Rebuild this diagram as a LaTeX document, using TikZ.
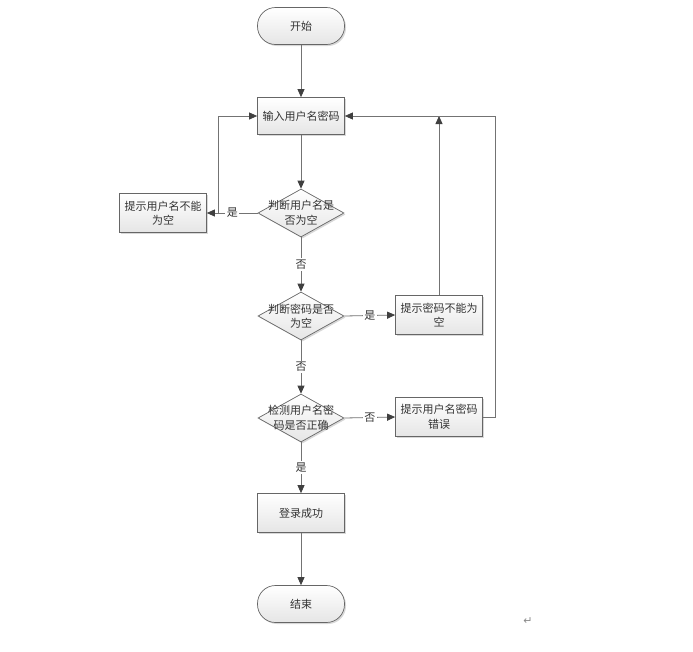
\documentclass[tikz,border=0pt]{standalone}
\usepackage{fontspec}
\setmainfont{Noto Sans CJK SC}
\newfontfamily\symfont{DejaVu Sans}
\usetikzlibrary{shapes.geometric,arrows.meta,shadows}
\begin{document}
\begin{tikzpicture}[x=1pt,y=-1pt,
  txt/.style={font=\fontsize{11}{14.5}\selectfont, text=black!80, align=center},
  shd/.style={drop shadow={shadow xshift=1.5pt,shadow yshift=-1.5pt,fill=black!25,opacity=0.6}},
  proc/.style={draw=black!60, line width=0.7pt, top color=white, bottom color=black!10, minimum width=87pt, minimum height=39pt, inner sep=2pt, txt, shd},
  term/.style={proc, rounded corners=18pt, minimum height=37pt},
  dec/.style={diamond, draw=black!60, line width=0.7pt, top color=white, bottom color=black!10, minimum width=86pt, minimum height=48pt, inner sep=0pt, shd},
  conn/.style={draw=black!55, line width=0.8pt, -{Triangle[length=8pt,width=7pt,color=black!75,fill=black!75]}},
  lab/.style={fill=white, inner sep=1.5pt, txt}
]
\useasboundingbox (0,0) rectangle (693,651);
\fill[white] (0,0) rectangle (693,651);

\node[term] (start) at (301,26) {开始};
\node[proc, minimum height=37pt] (input) at (301,116) {输入用户名密码};
\node[dec] (d1) at (301,213) {};
\node[txt] at (301,213) {判断用户名是\\否为空};
\node[proc] (w1) at (163,213) {提示用户名不能\\为空};
\node[dec] (d2) at (301,316) {};
\node[txt] at (301,316) {判断密码是否\\为空};
\node[proc] (w2) at (439,315) {提示密码不能为\\空};
\node[dec] (d3) at (301,418) {};
\node[txt] at (301,418) {检测用户名密\\码是否正确};
\node[proc] (w3) at (439,417) {提示用户名密码\\错误};
\node[proc] (ok) at (301,513) {登录成功};
\node[term] (end) at (301,604) {结束};

\coordinate (j1) at (218,213);
\coordinate (r1) at (495,417);
\coordinate (r2) at (495,116);

\draw[conn] (start) -- (input);
\draw[conn] (input) -- (d1);
\draw[conn] (d1.west) -- node[lab] {是} (w1.east);
\draw[conn] (j1) |- (input.west);
\draw[conn] (d1) -- node[lab] {否} (d2);
\draw[conn] (d2.east) -- node[lab] {是} (w2.west);
\draw[conn] (w2.north) -- (w2.north |- input.east);
\draw[conn] (d2) -- node[lab] {否} (d3);
\draw[conn] (d3.east) -- node[lab] {否} (w3.west);
\draw[conn] (w3.east) -- (r1) -- (r2) -- (input.east);
\draw[conn] (d3) -- node[lab] {是} (ok);
\draw[conn] (ok) -- (end);

\node[font=\symfont\fontsize{11}{12}\selectfont, text=black!45] (pm) at (528,621) {↵};
\end{tikzpicture}
\end{document}
